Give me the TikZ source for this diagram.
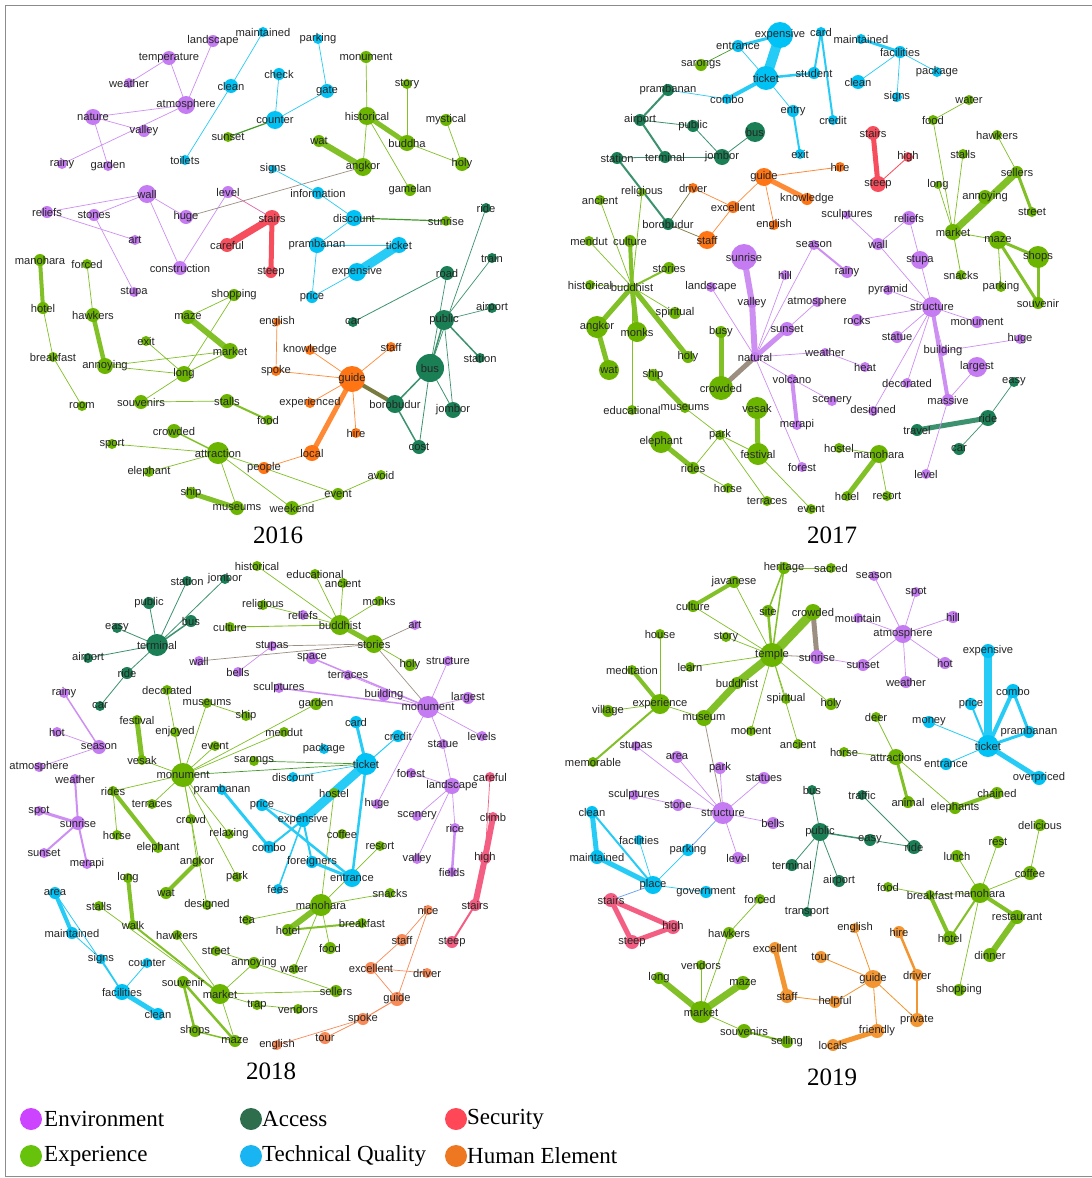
\documentclass[tikz,border=0pt]{standalone}
\usepackage{fontspec}
\usepackage{etoolbox}
\setmainfont{Liberation Serif}
\newfontfamily\labfont{Liberation Sans}
\pgfdeclarelayer{bg}
\pgfsetlayers{bg,main}
% node colours
\definecolor{cP}{HTML}{C57BF1}
\definecolor{cG}{HTML}{6BB500}
\definecolor{cA}{HTML}{1A7F55}
\definecolor{cT}{HTML}{00C2F4}
\definecolor{cS}{HTML}{F74E5D}
\definecolor{cS2}{HTML}{F45E82}
\definecolor{cH}{HTML}{FF7513}
\definecolor{cH2}{HTML}{F98A57}
\definecolor{cH3}{HTML}{F39531}
\definecolor{cX}{HTML}{9C8F82}
\definecolor{cO}{HTML}{7A7B3E}
% legend colours
\definecolor{lP}{HTML}{CC44FF}
\definecolor{lG}{HTML}{66C20A}
\definecolor{lA}{HTML}{2E6E4C}
\definecolor{lT}{HTML}{19B5F2}
\definecolor{lS}{HTML}{FF4757}
\definecolor{lH}{HTML}{EE7722}
\tikzset{
  dot/.style={circle,inner sep=0pt,draw=none},
  lbl/.style={inner sep=0pt,text=black!85,font=\labfont\fontsize{11.2}{13}\selectfont},
  eP/.style={draw=cP!85!white},
  eG/.style={draw=cG!85!white},
  eA/.style={draw=cA!85!white},
  eT/.style={draw=cT!85!white},
  eS/.style={draw=cS},
  eS2/.style={draw=cS2},
  eH/.style={draw=cH!85!white},
  eH2/.style={draw=cH2},
  eH3/.style={draw=cH3},
  eX/.style={draw=cX},
  eO/.style={draw=cO},
  eAG/.style={draw=cA!50!cG},
  eSP/.style={draw=cS!50!cP},
  ePT/.style={draw=cP!50!cT},
  year/.style={inner sep=0pt,font=\fontsize{25}{30}\selectfont},
  legtext/.style={inner sep=0pt,anchor=west,font=\fontsize{23}{28}\selectfont},
}
% a term: its dot now, its word collected and set after the connectors
\newcommand\alllabels{}
\newcommand\Nd[6]{%
  \node[dot,fill=#5,minimum size=#4pt] (#1) at (#2,#3) {};
  \gappto\alllabels{\node[lbl] (#1-t) at (#1.center) {#6};}}
\newcommand\Edges[3]{%
  \foreach \u/\v/\w in {#3} {\draw[#2,line width=\w,line cap=round] (#1\u.center) -- (#1\v.center);}}
\begin{document}
\begin{tikzpicture}[x=1pt,y=-1pt]
\useasboundingbox (0,0) rectangle (1092,1178);
\begin{pgfonlayer}{bg}
\fill[white] (0,0) rectangle (1092,1178);
\end{pgfonlayer}
\draw[black!45,line width=1] (1092,5) -- (5,5) -- (5,1176) -- (1092,1176);

% ---------------- 2016 ----------------
\Nd{alandscape}{213}{41}{12}{cP}{landscape}
\Nd{atemperature}{169}{58}{14}{cP}{temperature}
\Nd{aweather}{129}{83}{10}{cP}{weather}
\Nd{aatmosphere}{186}{105}{18}{cP}{atmosphere}
\Nd{anature}{93}{117}{16}{cP}{nature}
\Nd{avalley}{144}{131}{12}{cP}{valley}
\Nd{arainy}{62}{164}{10}{cP}{rainy}
\Nd{agarden}{108}{166}{10}{cP}{garden}
\Nd{amaintained}{263}{32}{10}{cT}{maintained}
\Nd{aclean}{231}{86}{14}{cT}{clean}
\Nd{atoilets}{185}{160}{10}{cT}{toilets}
\Nd{acheck}{279}{74}{12}{cT}{check}
\Nd{acounter}{275}{120}{18}{cT}{counter}
\Nd{asunset}{228}{137}{10}{cG}{sunset}
\Nd{aparking}{318}{39}{10}{cT}{parking}
\Nd{agate}{327}{91}{14}{cT}{gate}
\Nd{amonument}{366}{57}{12}{cG}{monument}
\Nd{ahistorical}{367}{116}{18}{cG}{historical}
\Nd{astory}{407}{84}{10}{cG}{story}
\Nd{abuddha}{407}{143}{16}{cG}{buddha}
\Nd{amystical}{446}{120}{12}{cG}{mystical}
\Nd{aholy}{462}{164}{14}{cG}{holy}
\Nd{awat}{319}{141}{12}{cG}{wat}
\Nd{aangkor}{363}{167}{18}{cG}{angkor}
\Nd{asigns}{273}{169}{8}{cT}{signs}
\Nd{agamelan}{410}{190}{12}{cG}{gamelan}
\Nd{awall}{147}{194}{18}{cP}{wall}
\Nd{alevel}{228}{192}{12}{cP}{level}
\Nd{ainformation}{318}{193}{12}{cT}{information}
\Nd{areliefs}{47}{212}{12}{cP}{reliefs}
\Nd{astones}{94}{215}{12}{cP}{stones}
\Nd{ahuge}{186}{217}{14}{cP}{huge}
\Nd{astairs}{272}{218}{16}{cS}{stairs}
\Nd{adiscount}{354}{218}{16}{cT}{discount}
\Nd{asunrise}{446}{221}{10}{cG}{sunrise}
\Nd{aride}{486}{208}{10}{cA}{ride}
\Nd{aart}{135}{240}{10}{cP}{art}
\Nd{acareful}{227}{245}{14}{cS}{careful}
\Nd{aprambanan}{317}{245}{16}{cT}{prambanan}
\Nd{aticket}{399}{245}{16}{cT}{ticket}
\Nd{atrain}{492}{258}{10}{cA}{train}
\Nd{amanohara}{40}{260}{12}{cG}{manohara}
\Nd{aforced}{87}{264}{10}{cG}{forced}
\Nd{aconstruction}{180}{268}{14}{cP}{construction}
\Nd{asteep}{271}{272}{12}{cS}{steep}
\Nd{aexpensive}{357}{272}{18}{cT}{expensive}
\Nd{aroad}{447}{273}{14}{cA}{road}
\Nd{astupa}{134}{292}{10}{cP}{stupa}
\Nd{ashopping}{234}{295}{12}{cG}{shopping}
\Nd{aprice}{312}{297}{12}{cT}{price}
\Nd{acar}{353}{322}{10}{cA}{car}
\Nd{apublic}{444}{320}{20}{cA}{public}
\Nd{aairport}{492}{308}{10}{cA}{airport}
\Nd{ahotel}{43}{308}{12}{cG}{hotel}
\Nd{ahawkers}{93}{315}{14}{cG}{hawkers}
\Nd{amaze}{188}{317}{14}{cG}{maze}
\Nd{aenglish}{277}{322}{8}{cH}{english}
\Nd{aexit}{146}{341}{10}{cG}{exit}
\Nd{amarket}{230}{351}{16}{cG}{market}
\Nd{aknowledge}{310}{350}{10}{cH}{knowledge}
\Nd{astaff}{391}{347}{10}{cH}{staff}
\Nd{abreakfast}{53}{357}{10}{cG}{breakfast}
\Nd{astation}{480}{358}{10}{cA}{station}
\Nd{aannoying}{105}{366}{16}{cG}{annoying}
\Nd{along}{184}{374}{16}{cG}{long}
\Nd{aspoke}{276}{371}{10}{cH}{spoke}
\Nd{aguide}{352}{379}{26}{cH}{guide}
\Nd{abus}{430}{368}{28}{cA}{bus}
\Nd{aroom}{82}{406}{10}{cG}{room}
\Nd{asouvenirs}{141}{402}{14}{cG}{souvenirs}
\Nd{astalls}{227}{401}{14}{cG}{stalls}
\Nd{aexperienced}{310}{403}{10}{cH}{experienced}
\Nd{aborobudur}{395}{404}{18}{cA}{borobudur}
\Nd{ajombor}{453}{410}{16}{cA}{jombor}
\Nd{afood}{268}{420}{10}{cG}{food}
\Nd{acrowded}{174}{431}{14}{cG}{crowded}
\Nd{ahire}{356}{433}{10}{cH}{hire}
\Nd{acost}{419}{447}{14}{cA}{cost}
\Nd{asport}{112}{444}{10}{cG}{sport}
\Nd{aattraction}{218}{453}{22}{cG}{attraction}
\Nd{alocal}{312}{453}{16}{cH}{local}
\Nd{apeople}{264}{468}{12}{cH}{people}
\Nd{aavoid}{381}{475}{10}{cG}{avoid}
\Nd{aelephant}{149}{472}{10}{cG}{elephant}
\Nd{aevent}{338}{494}{12}{cG}{event}
\Nd{aship}{191}{493}{12}{cG}{ship}
\Nd{amuseums}{237}{508}{14}{cG}{museums}
\Nd{aweekend}{292}{508}{14}{cG}{weekend}

% ---------------- 2017 ----------------
\Nd{bexpensive}{780}{35}{26}{cT}{expensive}
\Nd{bcard}{821}{32}{10}{cT}{card}
\Nd{bmaintained}{861}{39}{10}{cT}{maintained}
\Nd{bentrance}{738}{46}{12}{cT}{entrance}
\Nd{bfacilities}{900}{52}{12}{cT}{facilities}
\Nd{bsarongs}{701}{65}{12}{cG}{sarongs}
\Nd{bticket}{766}{78}{24}{cT}{ticket}
\Nd{bstudent}{814}{73}{12}{cT}{student}
\Nd{bpackage}{937}{72}{10}{cT}{package}
\Nd{bclean}{858}{82}{14}{cT}{clean}
\Nd{bprambanan}{668}{90}{12}{cA}{prambanan}
\Nd{bcombo}{727}{99}{10}{cT}{combo}
\Nd{bsigns}{897}{97}{10}{cT}{signs}
\Nd{bwater}{969}{100}{10}{cG}{water}
\Nd{bairport}{640}{120}{12}{cA}{airport}
\Nd{bpublic}{693}{126}{12}{cA}{public}
\Nd{bentry}{793}{111}{12}{cT}{entry}
\Nd{bcredit}{833}{120}{10}{cT}{credit}
\Nd{bbus}{755}{132}{20}{cA}{bus}
\Nd{bfood}{933}{120}{10}{cG}{food}
\Nd{bstairs}{873}{133}{14}{cS}{stairs}
\Nd{bhawkers}{997}{135}{10}{cG}{hawkers}
\Nd{bhigh}{908}{157}{10}{cS}{high}
\Nd{bstalls}{963}{154}{10}{cG}{stalls}
\Nd{bstation}{617}{158}{12}{cA}{station}
\Nd{bterminal}{665}{157}{12}{cA}{terminal}
\Nd{bjombor}{722}{157}{16}{cA}{jombor}
\Nd{bexit}{800}{154}{10}{cT}{exit}
\Nd{bguide}{764}{177}{18}{cH}{guide}
\Nd{bhire}{840}{167}{10}{cH}{hire}
\Nd{bsellers}{1017}{172}{12}{cG}{sellers}
\Nd{bsteep}{878}{184}{16}{cS}{steep}
\Nd{blong}{938}{185}{8}{cG}{long}
\Nd{bdriver}{693}{188}{10}{cH}{driver}
\Nd{breligious}{642}{192}{8}{cG}{religious}
\Nd{bknowledge}{807}{199}{12}{cH}{knowledge}
\Nd{bancient}{600}{200}{10}{cG}{ancient}
\Nd{bexcellent}{733}{207}{12}{cH}{excellent}
\Nd{bannoying}{985}{197}{14}{cG}{annoying}
\Nd{bstreet}{1032}{212}{10}{cG}{street}
\Nd{bsculptures}{847}{215}{8}{cP}{sculptures}
\Nd{breliefs}{909}{218}{14}{cP}{reliefs}
\Nd{bborobudur}{668}{224}{12}{cA}{borobudur}
\Nd{benglish}{774}{225}{10}{cH}{english}
\Nd{bmarket}{953}{232}{16}{cG}{market}
\Nd{bstaff}{707}{240}{18}{cH}{staff}
\Nd{bmendut}{589}{241}{10}{cG}{mendut}
\Nd{bculture}{630}{241}{12}{cG}{culture}
\Nd{bwall}{878}{244}{12}{cP}{wall}
\Nd{bseason}{814}{245}{10}{cP}{season}
\Nd{bmaze}{998}{240}{18}{cG}{maze}
\Nd{bshops}{1038}{257}{22}{cG}{shops}
\Nd{bsunrise}{744}{257}{26}{cP}{sunrise}
\Nd{bstupa}{920}{260}{18}{cP}{stupa}
\Nd{bstories}{669}{268}{12}{cG}{stories}
\Nd{bhill}{785}{275}{10}{cP}{hill}
\Nd{brainy}{847}{272}{12}{cP}{rainy}
\Nd{bsnacks}{961}{275}{10}{cG}{snacks}
\Nd{bhistorical}{590}{285}{10}{cG}{historical}
\Nd{bbuddhist}{632}{287}{8}{cG}{buddhist}
\Nd{blandscape}{711}{287}{10}{cP}{landscape}
\Nd{bparking}{1001}{287}{10}{cG}{parking}
\Nd{bpyramid}{888}{290}{10}{cP}{pyramid}
\Nd{batmosphere}{817}{302}{10}{cP}{atmosphere}
\Nd{bvalley}{752}{303}{10}{cP}{valley}
\Nd{bstructure}{932}{307}{20}{cP}{structure}
\Nd{bsouvenir}{1038}{303}{12}{cG}{souvenir}
\Nd{bspiritual}{675}{313}{12}{cG}{spiritual}
\Nd{brocks}{857}{320}{12}{cP}{rocks}
\Nd{bmonument}{977}{322}{12}{cP}{monument}
\Nd{bangkor}{597}{327}{22}{cG}{angkor}
\Nd{bmonks}{637}{332}{20}{cG}{monks}
\Nd{bbusy}{721}{332}{12}{cG}{busy}
\Nd{bsunset}{787}{329}{14}{cP}{sunset}
\Nd{bstatue}{897}{337}{12}{cP}{statue}
\Nd{bhuge}{1020}{339}{10}{cP}{huge}
\Nd{bholy}{688}{357}{12}{cG}{holy}
\Nd{bnatural}{755}{357}{10}{cP}{natural}
\Nd{bweather}{825}{352}{8}{cP}{weather}
\Nd{bbuilding}{943}{351}{10}{cP}{building}
\Nd{bwat}{609}{370}{20}{cG}{wat}
\Nd{bheat}{865}{367}{10}{cP}{heat}
\Nd{blargest}{977}{367}{20}{cP}{largest}
\Nd{bship}{653}{375}{12}{cG}{ship}
\Nd{bcrowded}{721}{388}{24}{cG}{crowded}
\Nd{bvolcano}{792}{379}{10}{cP}{volcano}
\Nd{bdecorated}{907}{383}{10}{cP}{decorated}
\Nd{beasy}{1014}{382}{10}{cA}{easy}
\Nd{bmassive}{948}{400}{12}{cP}{massive}
\Nd{bscenery}{832}{401}{10}{cP}{scenery}
\Nd{beducational}{632}{410}{10}{cG}{educational}
\Nd{bmuseums}{685}{408}{10}{cG}{museums}
\Nd{bvesak}{757}{408}{22}{cG}{vesak}
\Nd{bdesigned}{873}{411}{10}{cP}{designed}
\Nd{bmerapi}{797}{425}{10}{cP}{merapi}
\Nd{btravel}{917}{430}{12}{cA}{travel}
\Nd{bride}{988}{418}{16}{cA}{ride}
\Nd{bpark}{720}{435}{10}{cG}{park}
\Nd{belephant}{661}{442}{22}{cG}{elephant}
\Nd{bhostel}{839}{448}{10}{cG}{hostel}
\Nd{bmanohara}{879}{454}{18}{cG}{manohara}
\Nd{bfestival}{758}{454}{22}{cG}{festival}
\Nd{bcar}{959}{449}{12}{cA}{car}
\Nd{bforest}{802}{467}{10}{cP}{forest}
\Nd{brides}{693}{468}{12}{cG}{rides}
\Nd{blevel}{926}{474}{10}{cP}{level}
\Nd{bhorse}{728}{488}{10}{cG}{horse}
\Nd{bhotel}{847}{496}{10}{cG}{hotel}
\Nd{bresort}{887}{496}{10}{cG}{resort}
\Nd{bterraces}{767}{501}{10}{cG}{terraces}
\Nd{bevent}{811}{509}{10}{cG}{event}

% ---------------- 2018 ----------------
\Nd{chistorical}{257}{566}{10}{cG}{historical}
\Nd{ceducational}{315}{574}{10}{cG}{educational}
\Nd{cstation}{187}{581}{10}{cA}{station}
\Nd{cjombor}{225}{579}{10}{cA}{jombor}
\Nd{cancient}{343}{583}{10}{cG}{ancient}
\Nd{cpublic}{149}{603}{12}{cA}{public}
\Nd{creligious}{263}{605}{10}{cG}{religious}
\Nd{cmonks}{379}{601}{10}{cG}{monks}
\Nd{creliefs}{303}{615}{10}{cP}{reliefs}
\Nd{cbus}{191}{621}{12}{cA}{bus}
\Nd{cart}{415}{625}{10}{cP}{art}
\Nd{cculture}{230}{627}{10}{cG}{culture}
\Nd{cbuddhist}{340}{625}{20}{cG}{buddhist}
\Nd{ceasy}{117}{628}{10}{cA}{easy}
\Nd{cterminal}{157}{645}{22}{cA}{terminal}
\Nd{cstories}{374}{644}{18}{cG}{stories}
\Nd{cstupas}{272}{646}{10}{cP}{stupas}
\Nd{cairport}{88}{658}{10}{cA}{airport}
\Nd{cwall}{199}{661}{10}{cP}{wall}
\Nd{cspace}{312}{658}{12}{cP}{space}
\Nd{choly}{410}{665}{12}{cG}{holy}
\Nd{cstructure}{448}{661}{10}{cP}{structure}
\Nd{cbells}{238}{672}{10}{cP}{bells}
\Nd{cride}{127}{673}{12}{cA}{ride}
\Nd{cterraces}{348}{675}{10}{cP}{terraces}
\Nd{cdecorated}{167}{690}{10}{cG}{decorated}
\Nd{csculptures}{279}{688}{10}{cP}{sculptures}
\Nd{cbuilding}{384}{695}{12}{cP}{building}
\Nd{clargest}{468}{698}{12}{cP}{largest}
\Nd{crainy}{64}{693}{10}{cP}{rainy}
\Nd{cmonumentp}{428}{707}{22}{cP}{monument}
\Nd{ccar}{100}{706}{10}{cA}{car}
\Nd{cmuseums}{207}{703}{10}{cG}{museums}
\Nd{cgarden}{316}{704}{12}{cG}{garden}
\Nd{cship}{246}{716}{10}{cG}{ship}
\Nd{ccard}{356}{722}{12}{cT}{card}
\Nd{cfestival}{137}{720}{10}{cG}{festival}
\Nd{chot}{57}{732}{10}{cP}{hot}
\Nd{cenjoyed}{175}{732}{10}{cG}{enjoyed}
\Nd{cmendut}{284}{732}{10}{cG}{mendut}
\Nd{ccredit}{398}{736}{12}{cT}{credit}
\Nd{cstatue}{443}{744}{10}{cP}{statue}
\Nd{clevels}{482}{736}{10}{cP}{levels}
\Nd{cseason}{99}{747}{14}{cP}{season}
\Nd{cevent}{215}{746}{10}{cG}{event}
\Nd{cpackage}{324}{749}{10}{cT}{package}
\Nd{cvesak}{142}{760}{10}{cG}{vesak}
\Nd{csarongs}{254}{761}{10}{cG}{sarongs}
\Nd{cticket}{366}{764}{22}{cT}{ticket}
\Nd{catmosphere}{39}{767}{10}{cP}{atmosphere}
\Nd{cmonument}{183}{775}{24}{cG}{monument}
\Nd{cdiscount}{293}{777}{10}{cT}{discount}
\Nd{cforest}{411}{773}{10}{cP}{forest}
\Nd{ccareful}{490}{777}{10}{cS2}{careful}
\Nd{cweather}{75}{779}{10}{cP}{weather}
\Nd{clandscape}{452}{786}{16}{cP}{landscape}
\Nd{crides}{113}{791}{10}{cG}{rides}
\Nd{cprambanan}{222}{790}{10}{cT}{prambanan}
\Nd{chostel}{334}{793}{10}{cG}{hostel}
\Nd{cterracesg}{152}{804}{10}{cG}{terraces}
\Nd{chuge}{377}{804}{10}{cP}{huge}
\Nd{cprice}{262}{805}{12}{cT}{price}
\Nd{cspot}{39}{811}{10}{cP}{spot}
\Nd{cscenery}{417}{816}{10}{cP}{scenery}
\Nd{cclimb}{493}{817}{10}{cS2}{climb}
\Nd{ccrowd}{191}{819}{10}{cG}{crowd}
\Nd{cexpensive}{303}{820}{14}{cT}{expensive}
\Nd{csunrise}{78}{823}{14}{cP}{sunrise}
\Nd{crice}{455}{828}{10}{cP}{rice}
\Nd{crelaxing}{229}{834}{10}{cG}{relaxing}
\Nd{ccoffee}{342}{834}{10}{cG}{coffee}
\Nd{chorse}{117}{835}{10}{cG}{horse}
\Nd{ccombo}{269}{847}{12}{cT}{combo}
\Nd{celephant}{158}{848}{10}{cG}{elephant}
\Nd{cresort}{380}{846}{10}{cG}{resort}
\Nd{csunset}{44}{853}{10}{cP}{sunset}
\Nd{cvalley}{417}{859}{10}{cP}{valley}
\Nd{chigh}{485}{858}{12}{cS2}{high}
\Nd{cangkor}{197}{862}{10}{cG}{angkor}
\Nd{cforeigners}{312}{862}{12}{cT}{foreigners}
\Nd{cmerapi}{87}{864}{10}{cP}{merapi}
\Nd{cfields}{452}{872}{10}{cP}{fields}
\Nd{cpark}{237}{877}{10}{cG}{park}
\Nd{clong}{128}{878}{10}{cG}{long}
\Nd{centrance}{352}{878}{18}{cT}{entrance}
\Nd{carea}{55}{893}{12}{cT}{area}
\Nd{cfees}{278}{889}{10}{cT}{fees}
\Nd{cwat}{166}{893}{12}{cG}{wat}
\Nd{csnacks}{390}{893}{10}{cG}{snacks}
\Nd{cdesigned}{207}{905}{10}{cG}{designed}
\Nd{cstalls}{99}{906}{10}{cG}{stalls}
\Nd{cmanohara}{321}{905}{22}{cG}{manohara}
\Nd{cnice}{428}{910}{10}{cH2}{nice}
\Nd{cstairs}{475}{905}{12}{cS2}{stairs}
\Nd{ctea}{247}{920}{10}{cG}{tea}
\Nd{cwalk}{133}{925}{10}{cG}{walk}
\Nd{cbreakfast}{362}{923}{10}{cG}{breakfast}
\Nd{chotel}{288}{930}{12}{cG}{hotel}
\Nd{cmaintained}{72}{933}{12}{cT}{maintained}
\Nd{chawkers}{177}{935}{10}{cG}{hawkers}
\Nd{cstaff}{402}{940}{12}{cH2}{staff}
\Nd{csteep}{452}{942}{12}{cS2}{steep}
\Nd{cfood}{330}{948}{12}{cG}{food}
\Nd{cstreet}{216}{951}{10}{cG}{street}
\Nd{csigns}{101}{959}{10}{cT}{signs}
\Nd{ccounter}{147}{963}{10}{cT}{counter}
\Nd{cannoying}{254}{963}{12}{cG}{annoying}
\Nd{cwater}{294}{969}{10}{cG}{water}
\Nd{cexcellent}{371}{968}{12}{cH2}{excellent}
\Nd{cdriver}{427}{973}{10}{cH2}{driver}
\Nd{csouvenir}{183}{982}{12}{cG}{souvenir}
\Nd{csellers}{336}{991}{12}{cG}{sellers}
\Nd{cfacilities}{122}{992}{16}{cT}{facilities}
\Nd{cmarket}{220}{994}{20}{cG}{market}
\Nd{cguide}{397}{999}{14}{cH2}{guide}
\Nd{ctrap}{257}{1005}{10}{cG}{trap}
\Nd{cvendors}{298}{1009}{10}{cG}{vendors}
\Nd{cclean}{158}{1014}{12}{cT}{clean}
\Nd{cspoke}{363}{1019}{12}{cH2}{spoke}
\Nd{cshops}{195}{1031}{12}{cG}{shops}
\Nd{ctour}{325}{1038}{12}{cH2}{tour}
\Nd{cmaze}{235}{1041}{12}{cG}{maze}
\Nd{cenglish}{277}{1045}{10}{cH2}{english}

% ---------------- 2019 ----------------
\Nd{dheritage}{784}{568}{12}{cG}{heritage}
\Nd{dsacred}{831}{568}{10}{cG}{sacred}
\Nd{dseason}{874}{576}{10}{cP}{season}
\Nd{djavanese}{734}{582}{12}{cG}{javanese}
\Nd{dspot}{916}{592}{10}{cP}{spot}
\Nd{dculture}{693}{606}{12}{cG}{culture}
\Nd{dsite}{768}{611}{12}{cG}{site}
\Nd{dcrowded}{813}{612}{16}{cG}{crowded}
\Nd{dmountain}{858}{618}{10}{cP}{mountain}
\Nd{dhill}{953}{617}{12}{cP}{hill}
\Nd{dhouse}{660}{634}{10}{cG}{house}
\Nd{dstory}{726}{637}{10}{cG}{story}
\Nd{datmosphere}{903}{634}{18}{cP}{atmosphere}
\Nd{dexpensive}{988}{651}{14}{cT}{expensive}
\Nd{dtemple}{772}{655}{24}{cG}{temple}
\Nd{dsunrise}{817}{657}{14}{cP}{sunrise}
\Nd{dlearn}{690}{667}{10}{cG}{learn}
\Nd{dsunset}{863}{665}{12}{cP}{sunset}
\Nd{dhot}{945}{663}{12}{cP}{hot}
\Nd{dmeditation}{632}{670}{10}{cG}{meditation}
\Nd{dbuddhist}{737}{683}{12}{cG}{buddhist}
\Nd{dweather}{906}{682}{12}{cP}{weather}
\Nd{dcombo}{1013}{691}{14}{cT}{combo}
\Nd{dprice}{971}{704}{12}{cT}{price}
\Nd{dspiritual}{786}{699}{10}{cG}{spiritual}
\Nd{dholy}{831}{704}{12}{cG}{holy}
\Nd{dexperience}{660}{704}{20}{cG}{experience}
\Nd{dvillage}{608}{711}{12}{cG}{village}
\Nd{dmuseum}{704}{718}{16}{cG}{museum}
\Nd{ddeer}{876}{717}{10}{cG}{deer}
\Nd{dmoney}{929}{722}{12}{cT}{money}
\Nd{dmoment}{751}{731}{10}{cG}{moment}
\Nd{dancient}{798}{744}{10}{cG}{ancient}
\Nd{dprambanan}{1029}{732}{12}{cT}{prambanan}
\Nd{dticket}{988}{746}{22}{cT}{ticket}
\Nd{dstupas}{636}{746}{10}{cP}{stupas}
\Nd{dmemorable}{593}{762}{10}{cG}{memorable}
\Nd{darea}{677}{757}{12}{cP}{area}
\Nd{dhorse}{844}{752}{10}{cG}{horse}
\Nd{dattractions}{896}{757}{16}{cG}{attractions}
\Nd{dentrance}{946}{764}{12}{cT}{entrance}
\Nd{dpark}{720}{768}{12}{cP}{park}
\Nd{doverpriced}{1039}{778}{14}{cT}{overpriced}
\Nd{dstatues}{764}{778}{12}{cP}{statues}
\Nd{dbus}{812}{790}{10}{cA}{bus}
\Nd{dtraffic}{862}{795}{10}{cA}{traffic}
\Nd{dchained}{997}{793}{12}{cG}{chained}
\Nd{dsculptures}{634}{795}{10}{cP}{sculptures}
\Nd{danimal}{908}{802}{12}{cG}{animal}
\Nd{delephants}{955}{808}{12}{cG}{elephants}
\Nd{dstone}{678}{805}{12}{cP}{stone}
\Nd{dstructure}{723}{813}{22}{cP}{structure}
\Nd{dclean}{592}{812}{12}{cT}{clean}
\Nd{dbells}{773}{823}{12}{cP}{bells}
\Nd{ddelicious}{1040}{825}{12}{cG}{delicious}
\Nd{dpublic}{820}{832}{18}{cA}{public}
\Nd{deasy}{870}{840}{12}{cA}{easy}
\Nd{dfacilities}{639}{840}{10}{cT}{facilities}
\Nd{drest}{998}{842}{12}{cG}{rest}
\Nd{dparking}{688}{850}{12}{cT}{parking}
\Nd{dride}{914}{847}{14}{cA}{ride}
\Nd{dlunch}{957}{856}{12}{cG}{lunch}
\Nd{dmaintained}{597}{857}{14}{cT}{maintained}
\Nd{dlevel}{738}{858}{12}{cP}{level}
\Nd{dterminal}{792}{865}{12}{cA}{terminal}
\Nd{dcoffee}{1030}{873}{14}{cG}{coffee}
\Nd{dairport}{839}{881}{12}{cA}{airport}
\Nd{dplace}{653}{885}{18}{cT}{place}
\Nd{dfood}{888}{887}{10}{cG}{food}
\Nd{dgovernment}{706}{892}{12}{cT}{government}
\Nd{dbreakfast}{930}{895}{10}{cG}{breakfast}
\Nd{dmanohara}{980}{893}{20}{cG}{manohara}
\Nd{dstairs}{611}{900}{14}{cS2}{stairs}
\Nd{dforced}{760}{899}{10}{cG}{forced}
\Nd{dtransport}{807}{912}{10}{cA}{transport}
\Nd{dhigh}{673}{927}{14}{cS2}{high}
\Nd{denglish}{855}{928}{10}{cH3}{english}
\Nd{dhire}{899}{932}{12}{cH3}{hire}
\Nd{dhawkers}{729}{933}{12}{cG}{hawkers}
\Nd{drestaurant}{1017}{917}{14}{cG}{restaurant}
\Nd{dhotel}{950}{938}{14}{cG}{hotel}
\Nd{dsteep}{632}{942}{14}{cS2}{steep}
\Nd{dexcellent}{775}{948}{12}{cH3}{excellent}
\Nd{ddinner}{990}{955}{14}{cG}{dinner}
\Nd{dtour}{821}{957}{12}{cH3}{tour}
\Nd{dvendors}{701}{965}{10}{cG}{vendors}
\Nd{dguide}{873}{979}{18}{cH3}{guide}
\Nd{ddriver}{917}{975}{12}{cH3}{driver}
\Nd{dlong}{659}{978}{12}{cG}{long}
\Nd{dmaze}{743}{983}{14}{cG}{maze}
\Nd{dshopping}{959}{990}{12}{cG}{shopping}
\Nd{dstaff}{787}{996}{14}{cH3}{staff}
\Nd{dhelpful}{835}{1002}{12}{cH3}{helpful}
\Nd{dmarket}{701}{1012}{22}{cG}{market}
\Nd{dprivate}{917}{1020}{14}{cH3}{private}
\Nd{dfriendly}{877}{1031}{14}{cH3}{friendly}
\Nd{dsouvenirs}{744}{1031}{14}{cG}{souvenirs}
\Nd{dselling}{787}{1042}{12}{cG}{selling}
\Nd{dlocals}{833}{1045}{12}{cH3}{locals}

% ---------------- connectors ----------------
\begin{pgfonlayer}{bg}
% 2016
\Edges{a}{eP}{temperature/weather/.7, temperature/atmosphere/.7, landscape/atmosphere/.7, atmosphere/nature/.7, atmosphere/rainy/.7, nature/valley/.7, nature/garden/.7, wall/reliefs/.7, wall/stones/.7, wall/huge/.7, wall/construction/.7, reliefs/art/.7, stones/stupa/.7, level/construction/.7}
\Edges{a}{eSP}{level/stairs/.7}
\Edges{a}{eX}{huge/angkor/.7}
\Edges{a}{eT}{maintained/clean/.7, clean/toilets/.7, check/counter/.7, counter/gate/.7, parking/gate/.7, signs/information/.7, information/discount/.7, discount/prambanan/.7, prambanan/ticket/.7, prambanan/price/.7, price/expensive/.7, ticket/expensive/9}
\Edges{a}{eAG}{counter/sunset/1.2, discount/sunrise/1.2}
\Edges{a}{eG}{monument/historical/.7, historical/buddha/5, historical/angkor/.7, historical/gamelan/.7, story/buddha/.7, buddha/holy/.7, mystical/holy/.7, wat/angkor/6, manohara/hotel/4, hotel/breakfast/.7, breakfast/room/.7, forced/hawkers/.7, hawkers/annoying/4.5, annoying/long/.7, annoying/market/.7, shopping/long/.7, shopping/maze/.7, exit/long/.7, market/long/.7, maze/market/6, long/souvenirs/.7, souvenirs/stalls/.7, stalls/food/2, crowded/attraction/1.5, sport/attraction/.7, elephant/attraction/.7, attraction/people/.7, attraction/museums/.7, attraction/weekend/.7, ship/museums/5, people/event/.7, weekend/event/.7, event/avoid/.7}
\Edges{a}{eS}{stairs/careful/7, stairs/steep/5}
\Edges{a}{eH}{english/spoke/.7, spoke/guide/.7, knowledge/guide/.7, staff/guide/.7, guide/experienced/.7, guide/hire/.7, guide/local/5, local/people/.7}
\Edges{a}{eO}{guide/borobudur/4}
\Edges{a}{eA}{bus/borobudur/1.5, bus/jombor/.8, bus/cost/.8, borobudur/cost/1.5, public/bus/1.5, ride/bus/.7, train/public/.7, road/bus/.7, airport/public/.7, public/station/1.5, public/jombor/.7, road/car/.8}
% 2017
\Edges{b}{eT}{expensive/ticket/10, expensive/entrance/3, entrance/ticket/.7, ticket/combo/4, ticket/student/2.5, ticket/entry/.7, entry/exit/2, card/student/2, card/credit/2, maintained/facilities/3, facilities/clean/.7, facilities/signs/.7, facilities/package/.7, combo/prambanan/.7}
\Edges{b}{eAG}{sarongs/entrance/.7}
\Edges{b}{eA}{prambanan/airport/2, airport/public/.8, airport/terminal/2, public/jombor/.8, jombor/bus/.8, station/terminal/.8, terminal/jombor/.8, station/borobudur/2, travel/ride/5, ride/easy/.7, ride/car/.7}
\Edges{b}{eH}{guide/hire/.8, guide/knowledge/5, guide/english/.7, guide/excellent/.7, excellent/driver/.7, excellent/staff/.7}
\Edges{b}{eO}{borobudur/driver/.7, borobudur/staff/.7}
\Edges{b}{eS}{stairs/steep/5, steep/high/.8}
\Edges{b}{eG}{food/water/.7, food/market/.7, hawkers/sellers/.7, stalls/market/.7, long/market/.7, sellers/market/7, sellers/street/3, market/maze/.8, market/snacks/.8, maze/shops/3, maze/parking/.8, maze/souvenir/3, shops/souvenir/3, buddhist/culture/4, buddhist/religious/.8, buddhist/ancient/.7, buddhist/mendut/.7, buddhist/historical/.7, buddhist/stories/2, buddhist/spiritual/.7, buddhist/angkor/5, buddhist/monks/5, buddhist/holy/5, buddhist/educational/.7, angkor/wat/5, busy/crowded/5, vesak/festival/5, ship/museums/5, museums/park/.7, park/festival/.7, park/rides/.7, park/terraces/.7, elephant/rides/5, rides/horse/.7, festival/event/.7, hostel/manohara/.7, manohara/hotel/5, manohara/resort/.7}
\Edges{b}{eP}{sunrise/valley/6, valley/natural/6, natural/hill/.7, natural/landscape/.7, natural/season/.7, natural/sunset/5, natural/weather/.7, natural/volcano/.7, natural/forest/.7, volcano/merapi/4, volcano/scenery/.7, season/rainy/2, sunset/atmosphere/.7, weather/heat/.7, wall/sculptures/.7, wall/reliefs/.7, wall/structure/.7, reliefs/stupa/.7, stupa/structure/.7, pyramid/structure/.7, rocks/structure/.7, monument/structure/.7, structure/statue/.7, structure/building/.7, structure/massive/4, structure/decorated/.7, structure/designed/.7, massive/largest/.7, massive/level/.7, building/huge/.7}
\Edges{b}{eX}{natural/crowded/5}
% 2018
\Edges{c}{eA}{terminal/station/.8, terminal/jombor/.8, terminal/public/.8, terminal/bus/1.5, terminal/easy/.8, terminal/airport/.8, terminal/ride/.8, ride/car/.8}
\Edges{c}{eG}{buddhist/historical/.7, buddhist/educational/.7, buddhist/ancient/.7, buddhist/monks/.7, religious/reliefs/.7, reliefs/buddhist/.7, buddhist/culture/.9, buddhist/stories/5, stories/holy/.7, monument/decorated/.7, monument/museums/.7, museums/ship/.7, monument/garden/.7, monument/enjoyed/.7, monument/event/.7, monument/mendut/.7, monument/vesak/.7, monument/rides/.7, monument/terracesg/.7, monument/crowd/.7, monument/relaxing/.7, monument/park/.7, monument/designed/.7, crowd/angkor/.7, festival/vesak/5, rides/elephant/4, rides/horse/.7, angkor/wat/4, long/walk/4, walk/market/2, stalls/market/.7, hawkers/market/.7, souvenir/shops/2.5, souvenir/maze/2.5, shops/maze/1.5, market/maze/.7, market/trap/.7, trap/vendors/.7, market/sellers/.7, market/annoying/.7, annoying/street/.7, annoying/sellers/.7, manohara/hotel/6, hotel/breakfast/2, manohara/tea/.7, manohara/food/.7, manohara/water/.7, manohara/snacks/.7, hostel/manohara/.7, resort/manohara/.7}
\Edges{c}{eX}{stories/art/.7, stories/stupas/.7, stories/wall/.7, stories/monumentp/.7}
\Edges{c}{eP}{stupas/bells/.7, space/monumentp/1.5, terraces/monumentp/.7, sculptures/monumentp/1.5, building/monumentp/.7, monumentp/structure/.7, monumentp/largest/.7, monumentp/statue/.7, monumentp/levels/.7, monumentp/huge/.7, statue/landscape/.7, landscape/forest/.7, landscape/scenery/.7, landscape/valley/.7, landscape/rice/.7, rice/fields/2.5, rainy/season/1.5, hot/season/.7, season/atmosphere/.7, weather/sunrise/2, spot/sunrise/3, sunrise/sunset/2, sunrise/merapi/2}
\Edges{c}{eAG}{sarongs/ticket/.7, monument/ticket/.7}
\Edges{c}{eT}{ticket/card/3, ticket/credit/1, ticket/discount/.7, ticket/expensive/9, ticket/entrance/2.5, expensive/price/.8, expensive/combo/2, price/entrance/2.5, prambanan/combo/3, expensive/foreigners/2, expensive/fees/1.5, foreigners/entrance/3, area/maintained/4, area/facilities/.8, maintained/signs/.8, signs/facilities/1.5, facilities/clean/5, facilities/counter/.8}
\Edges{c}{eS2}{careful/high/.7, climb/high/6, high/stairs/6, stairs/steep/2}
\Edges{c}{eH2}{nice/staff/.7, nice/guide/.7, staff/excellent/.7, excellent/driver/.7, excellent/guide/.7, guide/spoke/1, spoke/tour/.7, spoke/english/.7}
% 2019
\Edges{d}{eG}{heritage/sacred/.8, heritage/site/1.5, heritage/temple/1.5, site/temple/2.5, javanese/culture/4, javanese/temple/.7, culture/temple/.7, story/temple/.7, learn/temple/.7, temple/crowded/9, temple/buddhist/8, buddhist/museum/7, temple/spiritual/.7, temple/holy/.7, temple/moment/.7, temple/ancient/.7, house/experience/.7, meditation/experience/4, experience/village/.7, experience/museum/.7, experience/memorable/2, deer/attractions/.7, horse/attractions/.7, attractions/animal/3, attractions/elephants/.7, elephants/chained/4, breakfast/food/.7, breakfast/hotel/4, manohara/hotel/2, manohara/restaurant/4, restaurant/dinner/6, manohara/lunch/.7, manohara/rest/.7, manohara/coffee/.7, coffee/delicious/.7, manohara/shopping/.7, manohara/breakfast/.7, forced/hawkers/.7, hawkers/market/.7, vendors/market/.7, long/market/6, maze/market/7, market/souvenirs/.7, souvenirs/selling/2}
\Edges{d}{eX}{temple/sunrise/.8, crowded/sunrise/5, museum/structure/.7}
\Edges{d}{eP}{atmosphere/season/.7, atmosphere/spot/.7, atmosphere/mountain/.7, atmosphere/hill/.7, atmosphere/hot/.7, atmosphere/weather/.7, atmosphere/sunset/.7, sunset/sunrise/.7, structure/stupas/.7, structure/area/.7, structure/park/.7, structure/statues/.7, structure/stone/.7, stone/sculptures/.7, structure/bells/.7, structure/level/.7}
\Edges{d}{ePT}{structure/parking/.7, place/stairs/.7}
\Edges{d}{eT}{expensive/ticket/8, ticket/combo/4, combo/prambanan/3, ticket/prambanan/3, ticket/price/2, ticket/money/.8, ticket/entrance/.8, ticket/overpriced/5, clean/maintained/5, clean/place/2, maintained/place/5, facilities/place/.7, parking/place/.7, place/government/.7}
\Edges{d}{eA}{bus/public/.8, public/easy/1.5, easy/ride/.8, traffic/ride/.8, public/terminal/.8, public/airport/.8, public/transport/.8}
\Edges{d}{eH3}{excellent/staff/5, staff/helpful/.8, helpful/guide/.8, tour/guide/.8, english/guide/.8, guide/friendly/.8, guide/private/.8, friendly/locals/5, hire/driver/2.5, driver/private/1.5}
\Edges{d}{eS2}{stairs/high/5, stairs/steep/5, steep/high/5}
\end{pgfonlayer}

% ---------------- words, over dots and connectors ----------------
\alllabels

% ---------------- years ----------------
\node[year] (y2016) at (278,535) {2016};
\node[year] (y2017) at (832,535) {2017};
\node[year] (y2018) at (271,1071) {2018};
\node[year] (y2019) at (832,1077) {2019};

% ---------------- legend ----------------
\node[dot,fill=lP,minimum size=22pt] (kP) at (31,1119) {};
\node[legtext] (kPt) at (44,1119) {Environment};
\node[dot,fill=lA,minimum size=22pt] (kA) at (251,1119) {};
\node[legtext] (kAt) at (262,1119) {Access};
\node[dot,fill=lS,minimum size=22pt] (kS) at (456,1119) {};
\node[legtext] (kSt) at (467,1119) {Security};
\node[dot,fill=lG,minimum size=22pt] (kG) at (31,1156) {};
\node[legtext] (kGt) at (44,1156) {Experience};
\node[dot,fill=lT,minimum size=22pt] (kT) at (251,1156) {};
\node[legtext] (kTt) at (262,1156) {Technical Quality};
\node[dot,fill=lH,minimum size=22pt] (kH) at (456,1156) {};
\node[legtext] (kHt) at (467,1156) {Human Element};
\end{tikzpicture}
\end{document}
